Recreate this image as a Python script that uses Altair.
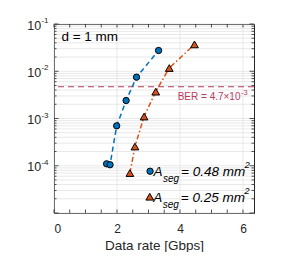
import altair as alt
import pandas as pd

# ---------------- data ----------------
rate_048 = [1.67, 1.78, 1.99, 2.29, 2.62, 3.32]
ber_048 = [1.10e-4, 1.05e-4, 7.0e-4, 2.4e-3, 7.5e-3, 2.75e-2]
rate_025 = [2.41, 2.57, 2.86, 3.23, 3.66, 4.46]
ber_025 = [7.0e-5, 2.55e-4, 1.1e-3, 3.7e-3, 1.17e-2, 3.7e-2]
ber_limit = 4.7e-3

x_ticks = [0, 2, 4, 6]
x_minor = [i * 0.5 for i in range(13)]
y_major = [1e-5, 1e-4, 1e-3, 1e-2, 1e-1]
y_labels = ["-4", "-3", "-2", "-1"]
y_all = sorted(set([m * 10.0 ** e for e in range(-5, -1) for m in range(1, 10)] + [1e-1]))

legend_x = [3.05, 3.04]
legend_y = [7.66e-5, 2.21e-5]
legend_val = ["0.48", "0.25"]

W, H = 200, 189
XDOM = [0, 6.35]
YDOM = [1e-5, 1e-1]
AX = "#262626"
BLUE = "#0072BD"
ORANGE = "#D95319"
RED = "#B83B5E"
FONT = "Liberation Sans"

xs = alt.Scale(domain=XDOM, nice=False, zero=False)
ys = alt.Scale(type="log", domain=YDOM, nice=False)

df = pd.DataFrame(
    {"rate": rate_048 + rate_025, "ber": ber_048 + ber_025,
     "series": ["a"] * 6 + ["b"] * 6, "i": list(range(6)) * 2}
)
d_a = df[df.series == "a"]
d_b = df[df.series == "b"]

# grid + axes
grid_df = pd.DataFrame({"y": y_all})
xgrid_df = pd.DataFrame({"x": x_ticks})
base_grid = alt.Chart(grid_df).mark_rule(color="#e2e2e2", strokeWidth=0.8).encode(
    y=alt.Y("y:Q", scale=ys, axis=None))
xgrid = alt.Chart(xgrid_df).mark_rule(color="#e2e2e2", strokeWidth=0.8).encode(
    x=alt.X("x:Q", scale=xs,
            axis=alt.Axis(values=x_ticks, title="Data rate [Gbps]", grid=False, ticks=False,
                          domain=False, labelPadding=10, labelFontSize=12, labelColor=AX,
                          titleFontSize=13.5, titleColor=AX, titleFontWeight="normal",
                          titleBaseline="alphabetic", titleY=36, labelFont=FONT, titleFont=FONT)))

# y axis title via axis on an invisible layer
ytitle = alt.Chart(pd.DataFrame({"y": [1e-3]})).mark_point(opacity=0).encode(
    y=alt.Y("y:Q", scale=ys,
            axis=alt.Axis(values=y_major, labels=False, ticks=False, domain=False, grid=False,
                          title="BER", titleFontSize=13.5, titleColor=AX, titleFontWeight="normal",
                          titleBaseline="alphabetic", titleX=-35, titleFont=FONT)))

# inward ticks
maj_y = pd.DataFrame({"y": y_major})
min_y = pd.DataFrame({"y": [v for v in y_all if v not in y_major]})
xt = pd.DataFrame({"x": x_minor})
tick_layers = [
    alt.Chart(maj_y).mark_rule(color=AX, strokeWidth=0.8).encode(y=alt.Y("y:Q", scale=ys), x=alt.value(0), x2=alt.value(4.5)),
    alt.Chart(maj_y).mark_rule(color=AX, strokeWidth=0.8).encode(y=alt.Y("y:Q", scale=ys), x=alt.value(W), x2=alt.value(W - 4.5)),
    alt.Chart(min_y).mark_rule(color=AX, strokeWidth=0.8).encode(y=alt.Y("y:Q", scale=ys), x=alt.value(0), x2=alt.value(2.5)),
    alt.Chart(min_y).mark_rule(color=AX, strokeWidth=0.8).encode(y=alt.Y("y:Q", scale=ys), x=alt.value(W), x2=alt.value(W - 2.5)),
    alt.Chart(xt).mark_rule(color=AX, strokeWidth=0.8).encode(x=alt.X("x:Q", scale=xs), y=alt.value(H), y2=alt.value(H - 3.5)),
    alt.Chart(xt).mark_rule(color=AX, strokeWidth=0.8).encode(x=alt.X("x:Q", scale=xs), y=alt.value(0), y2=alt.value(3.5)),
]

# y tick labels as 10 + superscript
lab_df = pd.DataFrame({"y": y_major[1:], "exp": y_labels})
ylab10 = alt.Chart(lab_df).mark_text(align="right", baseline="alphabetic", fontSize=12.5, color=AX,
                                      font=FONT, dy=5.5).encode(
    y=alt.Y("y:Q", scale=ys), x=alt.value(-12.8), text=alt.value("10"))
ylabexp = alt.Chart(lab_df).mark_text(align="left", baseline="alphabetic", fontSize=8, color=AX,
                                       font=FONT, dy=-1).encode(
    y=alt.Y("y:Q", scale=ys), x=alt.value(-12.6), text="exp:N")

# BER limit line + label
lim_df = pd.DataFrame({"y": [ber_limit]})
lim = alt.Chart(lim_df).mark_rule(color=RED, strokeWidth=1.2, strokeDash=[6, 4]).encode(
    y=alt.Y("y:Q", scale=ys))
limlab = alt.Chart(lim_df).mark_text(align="right", baseline="alphabetic", fontSize=10, color=RED,
                                      font=FONT, dy=13).encode(
    y=alt.Y("y:Q", scale=ys), x=alt.value(186.5), text=alt.value("BER = 4.7×10"))
limexp = alt.Chart(lim_df).mark_text(align="left", baseline="alphabetic", fontSize=7.5, color=RED,
                                      font=FONT, dy=8).encode(
    y=alt.Y("y:Q", scale=ys), x=alt.value(187), text=alt.value("-3"))

# series
line_a = alt.Chart(d_a).mark_line(color=BLUE, strokeWidth=1.5, strokeDash=[5, 3.5]).encode(
    x=alt.X("rate:Q", scale=xs), y=alt.Y("ber:Q", scale=ys), order="i:O")
line_b = alt.Chart(d_b).mark_line(color=ORANGE, strokeWidth=1.5, strokeDash=[5, 2.5, 1.5, 2.5]).encode(
    x=alt.X("rate:Q", scale=xs), y=alt.Y("ber:Q", scale=ys), order="i:O")
pts_a = alt.Chart(d_a).mark_point(shape="circle", filled=True, fill=BLUE, stroke="black",
                                  strokeWidth=1, size=40, opacity=1).encode(
    x=alt.X("rate:Q", scale=xs), y=alt.Y("ber:Q", scale=ys))
pts_b = alt.Chart(d_b).mark_point(shape="triangle-up", filled=True, fill=ORANGE, stroke="black",
                                  strokeWidth=1, size=60, opacity=1).encode(
    x=alt.X("rate:Q", scale=xs), y=alt.Y("ber:Q", scale=ys))

# legend
leg_df = pd.DataFrame({"x": legend_x, "y": legend_y, "v": [f"= {v} mm" for v in legend_val],
                       "shape": ["circle", "triangle-up"], "fill": [BLUE, ORANGE]})
leg_pts = alt.Chart(leg_df).mark_point(filled=True, stroke="black", strokeWidth=1, opacity=1).encode(
    x=alt.X("x:Q", scale=xs), y=alt.Y("y:Q", scale=ys),
    shape=alt.Shape("shape:N", scale=None), fill=alt.Fill("fill:N", scale=None),
    size=alt.condition("datum.shape == 'circle'", alt.value(40), alt.value(60)))
def legtext(text, dx, dy, size, field=False):
    enc = dict(x=alt.X("x:Q", scale=xs), y=alt.Y("y:Q", scale=ys))
    enc["text"] = alt.Text("v:N") if field else alt.value(text)
    return alt.Chart(leg_df).mark_text(align="left", baseline="alphabetic", fontSize=size,
                                       fontStyle="italic", font=FONT, color="black",
                                       dx=dx, dy=dy).encode(**enc)
leg_A = legtext("A", 3.5, 5, 13.5)
leg_seg = legtext("seg", 13, 11, 10)
leg_val = legtext(None, 31, 5, 13.5, field=True)
leg_sup = legtext("2", 94.5, -3, 9.5)

dlab = alt.Chart(pd.DataFrame({"t": ["d = 1 mm"]})).mark_text(
    align="left", baseline="alphabetic", fontSize=13.5, font=FONT, color="black").encode(
    x=alt.value(7.4), y=alt.value(17), text="t:N")

chart = alt.layer(
    base_grid, xgrid, ytitle, lim, line_a, line_b, pts_a, pts_b,
    *tick_layers, ylab10, ylabexp, limlab, limexp,
    leg_pts, leg_A, leg_seg, leg_val, leg_sup, dlab
).properties(
    width=W, height=H,
    autosize=alt.AutoSizeParams(type="none"),
    padding={"left": 46, "top": 16, "right": 22, "bottom": 39},
    background="white",
).configure_view(stroke=AX, strokeWidth=1)

chart.save("out.html", embed_options={"renderer": "svg", "actions": False})
